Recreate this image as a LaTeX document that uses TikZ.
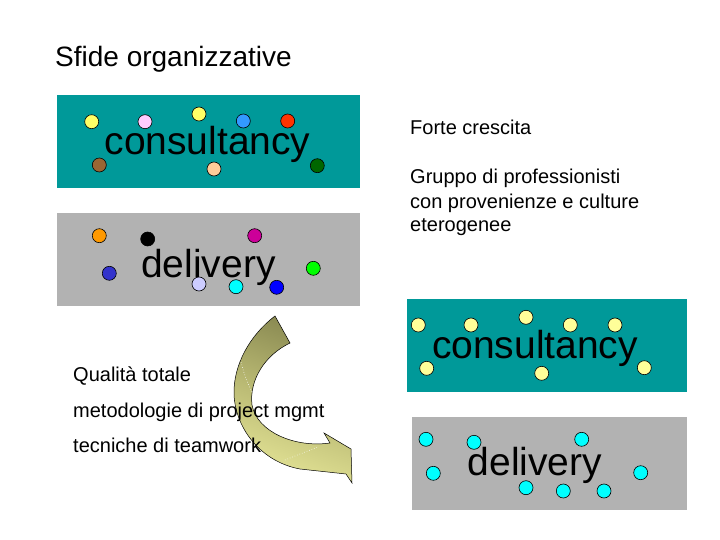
\documentclass[tikz,border=0pt]{standalone}
\usepackage{fontspec}
\setmainfont{Liberation Sans}
\definecolor{tealbox}{RGB}{0,153,153}
\definecolor{graybox}{RGB}{178,178,178}
\definecolor{dyellow}{RGB}{255,255,102}
\definecolor{dpink}{RGB}{255,204,255}
\definecolor{dblue}{RGB}{51,153,255}
\definecolor{dred}{RGB}{255,51,0}
\definecolor{dbrown}{RGB}{153,102,51}
\definecolor{dpeach}{RGB}{255,204,153}
\definecolor{dgreen}{RGB}{0,102,0}
\definecolor{dorange}{RGB}{255,153,0}
\definecolor{dmagenta}{RGB}{204,0,153}
\definecolor{dnavy}{RGB}{51,51,204}
\definecolor{dlime}{RGB}{0,255,0}
\definecolor{dlav}{RGB}{204,204,255}
\definecolor{dcyan}{RGB}{0,255,255}
\definecolor{dpblue}{RGB}{0,0,255}
\definecolor{lyellow}{RGB}{255,255,153}
\definecolor{oliveL}{RGB}{228,228,150}
\definecolor{oliveM}{RGB}{185,185,115}
\definecolor{oliveD}{RGB}{135,135,80}
\tikzset{
  box/.style={draw=none, minimum width=#1, inner sep=0, anchor=north west},
  dot/.style={circle, draw=black, line width=0.6pt, minimum size=14pt, inner sep=0, fill=#1},
  bigword/.style={font=\fontsize{39}{39}\selectfont, inner sep=0, anchor=base},
  txt/.style={font=\fontsize{20}{24}\selectfont, inner sep=0, anchor=base west},
}
\begin{document}
\begin{tikzpicture}[x=1pt,y=-1pt]
\useasboundingbox (0,0) rectangle (720,540);
% boxes
\node[box=303pt, minimum height=93pt, fill=tealbox] (c1) at (57,95) {};
\node[box=303pt, minimum height=93pt, fill=graybox] (d1) at (57,213) {};
\node[box=280pt, minimum height=93pt, fill=tealbox] (c2) at (407,299) {};
\node[box=275pt, minimum height=93pt, fill=graybox] (d2) at (412,417) {};
% words
\node[bigword] (w1) at (207.5,155) {consultancy};
\node[bigword] (w2) at (208.5,277) {delivery};
\node[bigword] (w3) at (535,358) {consultancy};
\node[bigword] (w4) at (535,475) {delivery};
% dots consultancy 1
\node[dot=dyellow] (a1) at (91.7,121.7) {};
\node[dot=dpink] (a2) at (145,121.7) {};
\node[dot=dyellow] (a3) at (199,114) {};
\node[dot=dblue] (a4) at (243.3,121) {};
\node[dot=dred] (a5) at (287.7,121) {};
\node[dot=dbrown] (a6) at (99.3,165) {};
\node[dot=dpeach] (a7) at (214,169) {};
\node[dot=dgreen] (a8) at (317.3,165.7) {};
% dots delivery 1
\node[dot=dorange] (b1) at (99.3,235.7) {};
\node[dot=black] (b2) at (147.7,239) {};
\node[dot=dmagenta] (b3) at (254.7,235.7) {};
\node[dot=dnavy] (b4) at (109.3,273.3) {};
\node[dot=dlime] (b5) at (313.3,268.3) {};
\node[dot=dlav] (b6) at (199,284) {};
\node[dot=dcyan] (b7) at (236,286.7) {};
\node[dot=dpblue] (b8) at (276.7,287.3) {};
% dots consultancy 2
\node[dot=lyellow] (e1) at (418.3,325) {};
\node[dot=lyellow] (e2) at (471,325) {};
\node[dot=lyellow] (e3) at (526,317.3) {};
\node[dot=lyellow] (e4) at (570.3,325) {};
\node[dot=lyellow] (e5) at (615,325) {};
\node[dot=lyellow] (e6) at (426.7,368.3) {};
\node[dot=lyellow] (e7) at (541.7,373.3) {};
\node[dot=lyellow] (e8) at (644.3,367.7) {};
% dots delivery 2
\node[dot=dcyan] (f1) at (426,439.3) {};
\node[dot=dcyan] (f2) at (474,442.3) {};
\node[dot=dcyan] (f3) at (581.7,439.3) {};
\node[dot=dcyan] (f4) at (433.3,473.3) {};
\node[dot=dcyan] (f5) at (640.7,472.7) {};
\node[dot=dcyan] (f6) at (526,487.7) {};
\node[dot=dcyan] (f7) at (563.3,491) {};
\node[dot=dcyan] (f8) at (604,491) {};
% curved arrow
\draw[black, line width=0.5pt, top color=oliveD, bottom color=oliveL, middle color=oliveM, shading angle=-20]
  (275,316) .. controls (250,335) and (233,365) .. (234,395)
  .. controls (236,430) and (262,462) .. (300,469)
  -- (346,474) -- (352,483) -- (351,449) -- (324,433) -- (330,443)
  .. controls (295,448) and (257,432) .. (252,405)
  .. controls (249,380) and (265,355) .. (290,343) -- cycle;
\draw[white, dotted, line width=0.6pt] (240,357) .. controls (243,372) and (247,382) .. (252,392);
\draw[white, dotted, line width=0.6pt] (285,460) .. controls (295,456) and (305,452) .. (318,447);
% texts
\node[font=\fontsize{28}{28}\selectfont, inner sep=0, anchor=base west] (title) at (55,67) {Sfide organizzative};
\node[txt] (t1) at (410,135) {Forte crescita};
\node[txt] (t2a) at (410,184) {Gruppo di professionisti};
\node[txt] (t2b) at (410,208) {con provenienze e culture};
\node[txt] (t2c) at (410,232) {eterogenee};
\node[txt] (t3a) at (73,381) {Qualità totale};
\node[txt] (t3b) at (73,417) {metodologie di project mgmt};
\node[txt] (t3c) at (73,452) {tecniche di teamwork};
\end{tikzpicture}
\end{document}
